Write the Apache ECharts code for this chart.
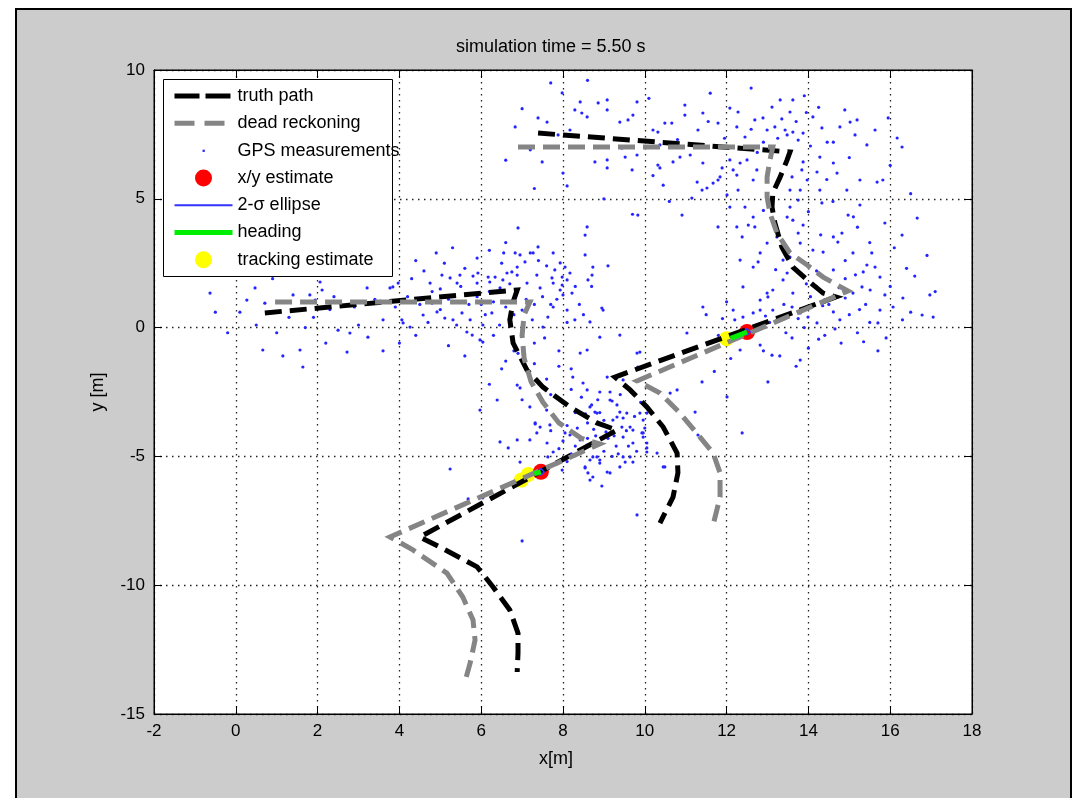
<!DOCTYPE html>
<html><head><meta charset="utf-8">
<script src="https://cdn.jsdelivr.net/npm/echarts@6/dist/echarts.min.js"></script>
<style>html,body{margin:0;padding:0;background:#fff;}#c{width:1073px;height:798px;}</style>
</head><body><div id="c"></div>
<script>
const titleText = 'simulation time = 5.50 s';
const xTickValues = [-2, 0, 2, 4, 6, 8, 10, 12, 14, 16, 18];
const yTickValues = [-15, -10, -5, 0, 5, 10];
const legendNames = ['truth path', 'dead reckoning', 'GPS measurements', 'x/y estimate', '2-\u03c3 ellipse', 'heading', 'tracking estimate'];

// robot A (left) and robot B (right) paths, [x, y] in metres
const truthA = [[0.71,0.57],[6.88,1.46],[6.78,1.0],[6.70,0.30],[6.78,-0.60],[7.12,-1.65],[7.51,-2.31],[8.17,-3.08],[8.83,-3.70],[9.32,-3.98],[4.50,-8.13],[4.99,-8.52],[5.90,-9.29],[6.29,-10.07],[6.70,-10.96],[6.90,-11.86],[6.90,-12.63],[6.88,-13.37]];
const deadA = [[0.96,0.99],[7.19,0.99],[7.05,0.5],[7.00,-0.3],[7.05,-1.2],[7.22,-2.1],[7.51,-2.9],[7.9,-3.7],[8.45,-4.3],[8.90,-4.52],[3.77,-8.13],[4.33,-8.63],[5.16,-9.53],[5.55,-10.46],[5.80,-11.35],[5.85,-12.13],[5.73,-13.02],[5.60,-13.76]];
const truthB = [[7.39,7.55],[13.55,6.82],[13.48,6.51],[13.31,5.85],[13.13,5.23],[13.11,4.68],[13.18,4.06],[13.35,3.13],[13.62,2.35],[13.97,1.85],[14.36,1.34],[14.67,1.19],[9.27,-1.92],[9.64,-2.42],[10.05,-3.08],[10.45,-3.86],[10.79,-4.87],[10.81,-5.64],[10.69,-6.58],[10.37,-7.59]];
const deadB = [[6.90,7.01],[13.13,7.01],[13.06,6.51],[12.99,5.85],[12.99,5.07],[13.06,4.45],[13.23,3.67],[13.55,2.90],[13.97,2.43],[14.36,1.96],[14.97,1.42],[9.81,-2.07],[10.37,-2.54],[10.86,-3.32],[11.35,-4.25],[11.67,-4.87],[11.84,-5.64],[11.84,-6.58],[11.67,-7.66]];

const xyEstimate = [[12.5,-0.17],[7.46,-5.6]];
const ellipseB = [[12.42,-0.17],[12.5,-0.04],[12.58,-0.17],[12.5,-0.30],[12.42,-0.17]];
const ellipseA = [[7.38,-5.6],[7.46,-5.47],[7.54,-5.6],[7.46,-5.73],[7.38,-5.6]];
const headingB = [[12.5,-0.17],[12.1,-0.42]];
const headingA = [[7.46,-5.6],[7.3,-5.68]];
const trackingEstimate = [[7.15,-5.7],[6.98,-5.92],[12.0,-0.43]];

const gpsA = [
[-0.63,1.34],[-0.5,0.6],[-0.2,-0.2],[0.1,0.6],[0.27,1.07],[0.47,1.54],[0.71,0.95],[0.66,-0.87],[0.9,1.9],[1.0,-0.2],[1.15,-1.10],[1.3,0.4],[1.40,1.27],[1.57,-0.87],[1.64,-1.53],[1.81,1.27],[1.9,0.4],[1.94,1.07],[2.06,1.77],[2.11,1.46],[2.3,0.7],[2.4,1.2],[2.5,-0.1],[2.72,-0.95],[2.79,-0.21],[2.9,0.8],[3.21,1.54],[3.23,-0.37],[3.4,1.1],[3.6,0.3],[3.6,-0.9],[3.77,1.54],[3.84,1.58],[3.97,1.73],[4.0,-0.6],[4.06,0.30],[4.09,0.18],[4.2,1.2],[4.26,0.02],[4.4,-0.3],[4.4,2.6],[4.5,0.9],[4.58,0.49],[4.6,2.2],[4.75,1.73],[4.8,0.95],[4.8,1.4],[4.9,2.9],[4.92,0.61],[5.0,0.7],[5.04,2.04],[5.1,2.5],[5.11,0.37],[5.2,1.1],[5.2,-0.7],[5.24,1.93],[5.3,3.1],[5.31,0.30],[5.41,1.73],[5.48,2.04],[5.5,1.6],[5.53,0.57],[5.6,2.3],[5.6,-1.1],[5.65,-0.17],[5.7,0.9],[5.73,0.30],[5.78,-0.29],[5.9,1.73],[5.9,1.2],[5.9,2.7],[5.92,2.12],[5.97,-0.48],[6.04,-0.56],[6.04,0.10],[6.1,0.5],[6.17,1.96],[6.2,3.0],[6.21,1.77],[6.26,0.57],[6.3,1.0],[6.3,-0.3],[6.34,1.96],[6.39,1.38],[6.46,1.54],[6.5,2.5],[6.53,1.85],[6.6,0.8],[6.6,3.3],[6.63,2.12],[6.7,0.2],[6.75,2.16],[6.83,2.9],[6.88,2.04],[6.88,2.35],[6.90,3.87],[6.95,2.82],[7.00,0.68],[7.07,2.55],[7.12,1.73],[7.2,2.9],[7.27,2.9],[7.3,0.9],[7.36,2.04],[7.39,3.13],[7.44,1.54],[7.5,1.2],[7.51,0.02],[7.6,2.4],[7.63,0.41],[7.73,1.93],[7.76,0.80],[7.76,2.9],[7.76,1.73],[7.80,2.24],[7.93,2.51],[7.93,1.46],[7.98,1.96],[7.98,1.65],[8.00,1.27],[8.05,2.35],[8.10,0.68],[8.10,1.85],[8.1,0.2],[8.17,2.12],[8.22,1.34],[8.29,0.30],[8.4,0.9],[8.42,-0.99],[8.54,3.59],[8.54,2.82],[8.59,-0.87],[8.61,1.85],[8.66,0.22],[8.71,2.04],[8.73,2.35],[8.7,1.6],[8.90,-0.37],[8.95,0.76],[8.98,0.68],[9.1,2.4],[9.39,-0.29],[9.81,-0.99],[9.88,-0.95],
[4.3,1.9],[4.7,0.2],[5.0,1.5],[5.4,0.1],[5.8,2.0],[6.0,0.9],[6.2,1.4],[6.45,0.1],[6.55,2.9],[6.7,1.7],[6.8,0.5],[7.1,1.1],[7.25,0.3],[7.4,2.6],[7.55,-0.4],[7.7,0.9],[7.85,1.1],[8.3,1.6],[8.5,0.5],[3.0,0.1],[2.2,-0.6],[1.7,0.0],[0.5,0.1],[3.9,0.8],
[5.97,-3.20],[6.39,-2.81],[6.5,-1.6],[6.2,-2.2],[6.6,-1.3],[6.8,-0.9],[6.88,-2.23],[6.95,-2.34],[6.9,-1.0],[7.19,-3.08],[7.3,-1.4],[7.3,-0.6],[7.32,-3.70],[7.44,-3.86],[7.5,-2.9],[7.6,-2.0],[7.8,-3.5],[7.9,-1.5],[7.9,-0.9],[8.2,-2.4],[8.24,-1.92],[8.3,-3.3],[8.49,-2.15],[8.59,-2.42],[8.6,-3.7],[8.66,-3.08],[8.70,-3.00],[8.78,-3.28],[8.83,-3.32],[8.9,-3.3],[8.90,-2.50],[9.08,-1.92],[9.15,-2.81],[9.15,-2.50],[9.20,-2.85],[9.22,-3.59],[9.32,-3.47],[9.32,-3.00],[9.39,-3.28],[9.44,-3.86],[9.47,-2.03],[9.47,-3.51],[9.56,-3.32],[9.64,-3.86],[9.71,-3.98],[9.83,-1.53],[9.88,-3.32],[9.9,-2.9],[9.93,-4.09],[9.96,-3.59],[9.96,-4.25],[10.0,-3.9],[10.05,-3.32],[10.05,-4.48],[10.05,-4.67],
[8.0,-2.9],[8.1,-3.8],[8.35,-3.9],[8.45,-2.7],[8.55,-3.35],[8.75,-3.95],[8.85,-2.8],[9.0,-3.6],[9.05,-4.05],[9.25,-4.2],[9.4,-2.6],[9.55,-4.0],[9.75,-3.45],[8.2,-1.6],[7.7,-2.6],[7.0,-2.8],[7.6,-3.2],
[7.32,-3.74],[7.68,-3.78],[7.7,-4.0],[8.0,-4.4],[8.05,-4.09],[8.17,-4.17],[8.3,-4.6],[8.42,-4.36],[8.59,-4.56],[8.73,-5.02],[8.8,-4.2],[8.90,-5.26],[9.08,-5.61],[9.1,-4.3],[9.3,-4.6],[8.54,-5.45],[8.66,-5.92],[8.95,-6.15],[9.15,-5.64],[9.47,-5.02],[9.47,-4.25],[9.52,-5.22],[9.39,-5.41],[9.6,-4.6],[9.64,-5.02],[9.71,-5.22],[9.71,-4.48],[8.90,-5.14],[8.83,-5.02],[8.66,-5.14],[8.54,-5.41],[8.73,-5.80],[8.61,-5.64],[10.05,-4.83],[9.96,-4.09],[10.30,-4.87],[10.49,-5.41],[6.95,-5.22],[6.88,-4.36],[6.66,-4.67],[6.46,-4.44],[7.19,-4.36],[7.36,-4.09],[7.61,-4.48],[7.98,-5.53],[7.63,-5.02],[7.76,-4.83],[5.24,-5.49],[5.68,-6.65],[6.04,-6.61],[7.00,-8.28],[9.81,-7.27],[10.45,-5.41],
[8.2,-4.9],[8.45,-4.8],[8.6,-4.3],[9.0,-4.8],[9.2,-5.0],[9.35,-4.9],[8.1,-5.2],[7.9,-4.7],[9.8,-4.8]
];
const gpsB = [
[7.98,9.11],[8.42,8.76],[8.86,8.72],[9.08,8.84],[9.81,8.76],[8.29,8.45],[8.46,8.33],[8.59,8.18],[9.08,8.45],[9.71,8.25],[9.39,7.98],[9.59,8.06],[7.39,8.14],[7.61,7.98],[6.83,7.79],[7.88,7.48],[8.17,7.67],[10.20,7.67],[10.32,7.59],[10.49,7.94],[10.66,7.94],[10.98,8.64],[10.98,8.25],[11.42,8.33],[11.30,7.67],[11.79,7.94],[12.08,8.52],[12.28,8.37],[12.25,7.79],[12.45,7.40],[12.69,8.06],[12.89,8.14],[12.99,7.67],[13.11,8.56],[13.31,8.84],[13.62,8.84],[13.55,8.37],[13.18,7.79],[13.43,7.67],[13.48,7.48],[13.62,7.59],[13.87,7.55],[13.75,7.28],[14.11,8.18],[14.33,7.75],[14.46,7.20],[14.61,7.20],[14.77,7.79],[14.89,8.45],[15.02,7.98],[15.19,8.06],[15.14,7.48],[15.43,7.09],[15.63,7.67],[16.17,7.36],[16.29,7.01],[15.95,8.14],
[9.44,6.97],[9.52,6.62],[9.69,6.12],[9.08,6.20],[8.78,6.43],[9.08,6.51],[7.49,6.43],[9.81,6.70],[10.37,7.09],[10.37,6.20],[10.32,6.31],[11.11,6.70],[11.42,6.39],[10.86,6.62],[10.69,6.43],[10.45,5.53],[11.28,5.65],[11.40,5.34],[10.91,4.37],[11.15,5.03],[9.83,4.37],[8.59,3.91],[8.1,5.5],[9.0,5.0],[9.7,4.4],[10.2,5.9],[10.6,4.9],[7.2,6.9],[7.0,8.5],[7.7,9.5],[8.6,9.6],[10.1,8.9],[11.6,9.1],[12.6,9.3],[13.9,9.0],[6.6,6.5],[8.0,6.0],[7.3,5.4],
[12.9,7.2],[13.25,7.35],[13.35,8.1],[13.7,8.0],[12.6,7.7],[12.75,6.8],[13.95,8.35],[14.05,7.05],[14.25,8.55],[11.95,7.35],[11.55,8.0],[10.8,7.3],
[14.28,6.62],[14.61,6.39],[14.21,6.04],[14.70,6.00],[15.26,5.73],[15.68,5.65],[15.82,5.73],[14.94,5.34],[14.28,5.34],[14.33,4.84],[15.26,4.76],[16.66,4.25],[16.29,3.59],[15.87,4.06],[14.97,4.37],[13.87,3.98],[14.82,3.67],[14.61,3.52],[14.72,3.32],[14.11,3.01],[14.36,2.93],[15.09,2.90],[15.43,2.43],[15.63,2.35],[15.75,1.96],[15.34,2.16],[15.31,1.58],[15.51,1.46],[15.87,1.27],[16.31,1.15],[16.97,1.27],[17.05,0.41],[16.78,0.49],[16.07,0.80],[15.75,0.68],[15.70,0.18],[15.09,1.34],[14.61,2.24],[14.48,1.85],[13.62,1.34],[13.38,1.85],[12.99,1.34],[12.82,1.07],[12.65,0.57],[13.13,0.68],[13.23,0.30],[13.80,0.57],[13.99,0.41],[14.21,0.18],[14.77,0.30],[14.61,0.61],[12.40,0.41],[12.16,0.68],[12.40,1.58],[12.65,2.35],[12.77,2.55],[12.33,2.62],[12.38,3.52],[12.82,2.90],[12.99,3.28],[13.23,3.52],[13.38,2.62],[13.55,2.74],[13.48,2.12],[13.55,4.68],[13.48,4.29],[13.62,4.17],[13.75,3.67],[13.80,3.28],[13.84,6.12],[13.87,6.43],[13.97,5.73],[13.80,5.34],[13.75,4.95],[13.55,5.34],[13.60,5.85],[12.65,5.73],[12.74,6.12],[12.50,6.51],[12.33,6.39],[12.25,5.92],[12.45,4.68],[12.65,4.29],[12.53,3.98],[12.25,3.91],[12.69,3.91],[12.28,5.34],[11.84,5.85],[11.67,5.61],[11.52,5.42],[11.79,5.73],[12.16,6.12],[12.08,6.51],[11.89,6.20],[12.01,5.15],[11.79,3.91],[12.08,4.68],[11.42,0.80],[13.13,1.46],[13.01,1.19],[12.82,0.68],[16.0,6.3],[16.5,5.2],[15.5,3.3],[16.9,2.8],[15.0,6.6],[14.6,4.9],[14.2,2.2],[16.4,2.3],
[14.0,4.5],[14.3,3.6],[14.9,2.6],[15.2,3.9],[15.55,2.9],[14.75,1.55],[15.15,2.05],[14.05,1.2],[13.6,0.8],[14.35,0.85],[14.9,1.15],[15.25,0.7],[13.95,1.7],[13.2,2.25],[12.9,4.55],[14.45,5.75],[15.1,4.3],[16.1,3.1],
[14.4,-0.3],[14.8,-0.6],[15.2,-0.2],[15.5,0.2],[15.9,-0.4],[16.3,0.3],[14.0,-0.8],[13.6,-0.4],[13.3,-1.1],[13.9,0.0],[14.5,0.9],[15.0,0.5],[16.5,0.6],[15.7,-0.9],[13.7,-1.5],[12.9,-0.9],[12.7,0.0],[12.2,0.3],[11.8,-0.3],[11.5,0.5],[12.0,1.0],[13.4,0.9],[14.2,1.6],[14.9,1.9],[15.4,0.9],[16.0,1.6],[16.6,2.0],[17.1,1.4],[12.1,-1.2],[11.7,-1.7],[13.8,-1.26],[11.03,-0.21],[11.40,-2.11],[12.01,-2.69],[12.38,-4.09],[13.01,-2.11],[12.82,-0.68],[13.11,-1.07],[12.33,-0.87],[10.79,-2.42],[10.62,-2.54],[11.23,-3.28],[11.30,-4.17],
[13.05,0.2],[13.45,-0.2],[14.65,-0.05],[15.35,-0.55],[12.95,0.45],[13.75,0.35],[14.25,-0.45],[11.9,0.35]
];

const FONT = "'Liberation Sans', Arial, Helvetica, sans-serif";
const chart = echarts.init(document.getElementById('c'), null, {renderer: 'canvas'});

const gridDots = {show: true, lineStyle: {color: '#222', width: 1.3, type: [1.5, 4.5]}};
const tickIn = {show: true, inside: true, length: 8, lineStyle: {color: '#000', width: 1}};
const lab = {color: '#000', fontSize: 17, fontFamily: FONT};
const xr = {min: xTickValues[0], max: xTickValues[xTickValues.length - 1], interval: xTickValues[1] - xTickValues[0]};
const yr = {min: yTickValues[0], max: yTickValues[yTickValues.length - 1], interval: yTickValues[1] - yTickValues[0]};

function pathSeries(name, data, color) {
  return {name: name, type: 'line', data: data, symbol: 'none', silent: true,
    lineStyle: {color: color, width: 5, type: [17, 8], cap: 'butt', join: 'miter'}, itemStyle: {color: color}};
}
function thinLine(name, data, color, w) {
  return {name: name, type: 'line', data: data, symbol: 'none', silent: true,
    lineStyle: {color: color, width: w, cap: 'butt'}, itemStyle: {color: color}};
}

chart.setOption({
  backgroundColor: '#ffffff',
  animation: false,
  title: {text: titleText, left: 456, top: 38, padding: 0,
    textStyle: {fontSize: 18, fontWeight: 'normal', color: '#000', fontFamily: FONT}},
  grid: {left: 154, top: 70, width: 818, height: 644, show: true, backgroundColor: '#fff', borderColor: '#000', borderWidth: 1},
  graphic: [
    {type: 'rect', z: -1, silent: true, shape: {x: 16, y: 9, width: 1055, height: 800},
      style: {fill: '#cccccc', stroke: '#000', lineWidth: 2}},
    {type: 'rect', z: 3, silent: true, shape: {x: 163.5, y: 79.5, width: 229, height: 197},
      style: {fill: '#fff', stroke: '#000', lineWidth: 1}}
  ],
  legend: {
    orient: 'vertical', left: 163, top: 79, padding: [8, 10, 8, 9], itemGap: 9.3,
    itemWidth: 58, itemHeight: 17, selectedMode: false, z: 5,
    textStyle: {fontSize: 18, color: '#000', fontFamily: FONT},
    data: [
      {name: legendNames[0], lineStyle: {width: 5, type: [25, 6]}, itemStyle: {opacity: 0}},
      {name: legendNames[1], lineStyle: {width: 5, type: [20, 10]}, itemStyle: {opacity: 0}},
      {name: legendNames[2], icon: 'path://M0,0M18,18M8,8h2.4v2.4h-2.4z'},
      {name: legendNames[3], icon: 'circle'},
      {name: legendNames[4], lineStyle: {width: 2}, itemStyle: {opacity: 0}},
      {name: legendNames[5], lineStyle: {width: 5}, itemStyle: {opacity: 0}},
      {name: legendNames[6], icon: 'circle'}
    ]
  },
  xAxis: [
    Object.assign({type: 'value', position: 'bottom', axisLine: {show: true, onZero: false, lineStyle: {color: '#000'}},
      axisTick: tickIn, axisLabel: Object.assign({margin: 9}, lab), splitLine: gridDots,
      name: 'x[m]', nameLocation: 'middle', nameGap: 36,
      nameTextStyle: {fontSize: 18, color: '#000', fontFamily: FONT, padding: [0, 14, 0, 0]}}, xr),
    Object.assign({type: 'value', position: 'top', axisLine: {show: true, onZero: false, lineStyle: {color: '#000'}},
      axisTick: tickIn, axisLabel: {show: false}, splitLine: {show: false}}, xr)
  ],
  yAxis: [
    Object.assign({type: 'value', position: 'left', axisLine: {show: true, onZero: false, lineStyle: {color: '#000'}},
      axisTick: tickIn, axisLabel: Object.assign({margin: 9}, lab), splitLine: gridDots,
      name: 'y [m]', nameLocation: 'middle', nameGap: 47, nameRotate: 90,
      nameTextStyle: {fontSize: 18, color: '#000', fontFamily: FONT}}, yr),
    Object.assign({type: 'value', position: 'right', axisLine: {show: true, onZero: false, lineStyle: {color: '#000'}},
      axisTick: tickIn, axisLabel: {show: false}, splitLine: {show: false}}, yr)
  ],
  series: [
    pathSeries(legendNames[0], truthA, '#000000'),
    pathSeries(legendNames[0], truthB, '#000000'),
    pathSeries(legendNames[1], deadA, '#858585'),
    pathSeries(legendNames[1], deadB, '#858585'),
    {name: legendNames[2], type: 'scatter', data: gpsA.concat(gpsB), symbol: 'circle', symbolSize: 3.2, silent: true,
      itemStyle: {color: '#2424ff', opacity: 1}},
    {name: legendNames[6], type: 'scatter', data: trackingEstimate, symbol: 'circle', symbolSize: 15, silent: true,
      itemStyle: {color: '#ffff00', opacity: 1}},
    {name: legendNames[3], type: 'scatter', data: xyEstimate, symbol: 'circle', symbolSize: 16, silent: true,
      itemStyle: {color: '#ff0000', opacity: 1}},
    thinLine(legendNames[4], ellipseA, '#3333ff', 1.5),
    thinLine(legendNames[4], ellipseB, '#3333ff', 1.5),
    thinLine(legendNames[5], headingA, '#00ee00', 5),
    thinLine(legendNames[5], headingB, '#00ee00', 5)
  ]
});
</script>
</body></html>
